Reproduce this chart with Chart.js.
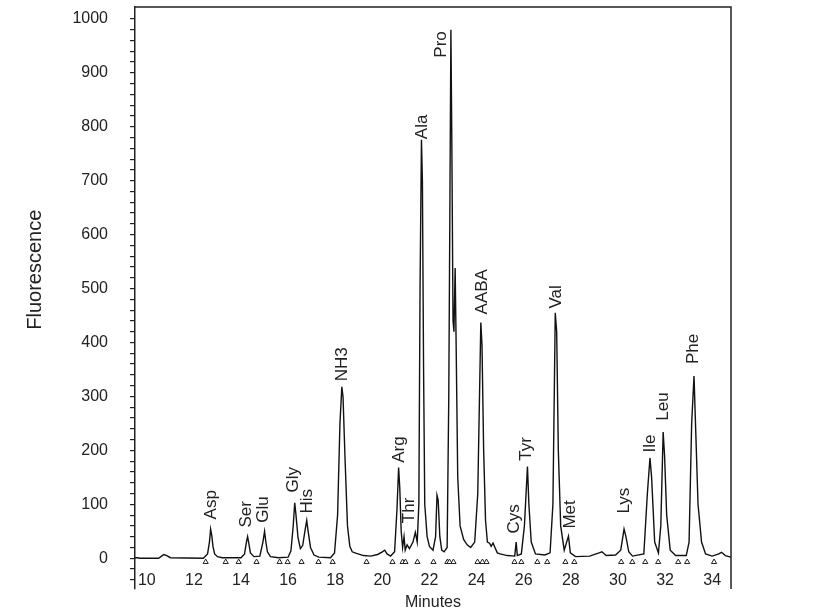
<!DOCTYPE html>
<html>
<head>
<meta charset="utf-8">
<script src="https://cdn.jsdelivr.net/npm/chart.js@4.4.1/dist/chart.umd.min.js"></script>
<style>
  body { margin: 0; background: #fff; }
</style>
</head>
<body>
<canvas id="chromChart" width="815" height="614"></canvas>
<script>
// retention time (minutes) and detector signal
const times = [
  9.5, 9.6, 9.7, 10.5, 10.6, 10.72, 10.85, 11.0, 12.4, 12.58,
  12.66, 12.71, 12.76, 12.81, 12.88, 13.0, 13.2, 14.0, 14.15, 14.23,
  14.28, 14.33, 14.4, 14.55, 14.8, 14.93, 15.0, 15.05, 15.12, 15.25,
  15.6, 16.0, 16.12, 16.22, 16.28, 16.33, 16.42, 16.52, 16.62, 16.73,
  16.79, 16.85, 16.95, 17.1, 17.3, 17.8, 17.97, 18.1, 18.2, 18.28,
  18.33, 18.42, 18.52, 18.62, 18.72, 18.9, 19.2, 19.5, 19.8, 20.0,
  20.1, 20.2, 20.35, 20.52, 20.62, 20.69, 20.74, 20.8, 20.86, 20.92,
  20.97, 21.05, 21.15, 21.3, 21.4, 21.48, 21.55, 21.6, 21.66, 21.7,
  21.75, 21.8, 21.9, 22.0, 22.15, 22.26, 22.32, 22.37, 22.44, 22.52,
  22.62, 22.75, 22.82, 22.87, 22.91, 22.95, 23.0, 23.04, 23.09, 23.13,
  23.2, 23.3, 23.45, 23.6, 23.75, 23.92, 24.05, 24.18, 24.23, 24.3,
  24.38, 24.46, 24.55, 24.62, 24.7, 24.78, 24.88, 25.0, 25.3, 25.62,
  25.68, 25.73, 25.9, 26.03, 26.16, 26.22, 26.32, 26.5, 26.9, 27.12,
  27.24, 27.34, 27.4, 27.47, 27.57, 27.72, 27.9, 27.98, 28.2, 28.8,
  29.2, 29.32, 29.5, 29.9, 30.12, 30.26, 30.34, 30.46, 30.62, 31.1,
  31.25, 31.36, 31.43, 31.56, 31.72, 31.82, 31.92, 31.98, 32.07, 32.22,
  32.45, 32.9, 33.02, 33.13, 33.23, 33.3, 33.4, 33.55, 33.72, 34.0,
  34.28, 34.4, 34.56, 34.8
];
const signal = [
  1, 1, 0, 0, 3, 7, 5, 1, 0, 8,
  30, 54, 42, 22, 8, 3, 1, 1, 8, 30,
  40, 28, 10, 3, 4, 30, 50, 32, 12, 3,
  1, 2, 14, 62, 103, 82, 38, 18, 24, 55,
  70, 50, 20, 6, 2, 1, 10, 80, 250, 318,
  300, 180, 60, 22, 12, 9, 5, 4, 7, 12,
  15, 8, 4, 12, 90, 168, 130, 50, 20, 40,
  15, 25, 18, 30, 48, 30, 100, 500, 776, 700,
  350, 100, 40, 22, 15, 40, 117, 108, 40, 15,
  12, 20, 300, 674, 980, 767, 440, 420, 538, 404,
  150, 60, 35, 25, 20, 30, 120, 437, 395, 200,
  70, 30, 28, 22, 28, 20, 10, 8, 5, 4,
  30, 5, 8, 60, 170, 100, 30, 8, 6, 10,
  100, 455, 420, 200, 60, 15, 41, 10, 3, 4,
  10, 12, 5, 6, 15, 54, 40, 12, 4, 8,
  120, 186, 150, 30, 10, 60, 234, 190, 80, 15,
  5, 5, 30, 250, 338, 240, 100, 30, 8, 4,
  8, 11, 5, 2
];

// peak names, where they sit (minutes) and the signal level where each label starts
const peakNames = ['Asp', 'Ser', 'Glu', 'Gly', 'His', 'NH3', 'Arg', 'Thr', 'Ala', 'Pro',
  'AABA', 'Cys', 'Tyr', 'Val', 'Met', 'Lys', 'Ile', 'Leu', 'Phe'];
const peakTimes = [12.76, 14.24, 14.96, 16.2, 16.83, 18.31, 20.73, 21.15, 21.7, 22.51,
  24.25, 25.61, 26.12, 27.39, 27.98, 30.27, 31.37, 31.93, 33.2];
const labelLevels = [72, 57, 66, 122, 83, 328, 177, 65, 777, 928,
  452, 46, 181, 463, 55, 83, 196, 255, 360];

// integration marks along the baseline
const markerTimes = [12.5, 13.35, 13.9, 14.66, 15.64, 15.98, 16.57, 17.29, 17.89, 19.33,
  20.43, 20.86, 20.98, 21.49, 22.17, 22.76, 22.85, 23.02, 24.04, 24.25,
  24.42, 25.61, 25.9, 26.58, 27.0, 27.77, 28.15, 30.14, 30.61, 31.16,
  31.71, 32.56, 32.94, 34.08];

const xTickLabels = [10, 12, 14, 16, 18, 20, 22, 24, 26, 28, 30, 32, 34];
const yTickLabels = [0, 100, 200, 300, 400, 500, 600, 700, 800, 900, 1000];
const yMinorTicks = [-40, -20, 0, 20, 40, 60, 80, 100, 120, 140, 160, 180, 200, 220, 240,
  260, 280, 300, 320, 340, 360, 380, 400, 420, 440, 460, 480, 500, 520, 540, 560,
  580, 600, 620, 640, 660, 680, 700, 720, 740, 760, 780, 800, 820, 840, 860, 880,
  900, 920, 940, 960, 980, 1000];

const ink = '#222';
Chart.defaults.font.family = '"Liberation Sans", Arial, Helvetica, sans-serif';
Chart.defaults.color = ink;

const framePlugin = {
  id: 'frame',
  afterDraw(chart) {
    const { ctx, chartArea: a, scales } = chart;
    ctx.save();
    ctx.strokeStyle = ink;
    ctx.lineWidth = 1.5;
    ctx.beginPath();
    ctx.moveTo(a.left, a.top);
    ctx.lineTo(a.right, a.top);
    ctx.lineTo(a.right, a.bottom);
    ctx.stroke();

    // peak names, rotated, above each peak
    ctx.fillStyle = ink;
    ctx.font = '17px "Liberation Sans", Arial, sans-serif';
    ctx.textAlign = 'left';
    ctx.textBaseline = 'middle';
    peakNames.forEach((name, i) => {
      const px = scales.x.getPixelForValue(peakTimes[i]);
      const py = scales.y.getPixelForValue(labelLevels[i]);
      ctx.save();
      ctx.translate(px, py);
      ctx.rotate(-Math.PI / 2);
      ctx.fillText(name, 0, 0);
      ctx.restore();
    });

    // y axis title
    ctx.font = '20px "Liberation Sans", Arial, sans-serif';
    ctx.textAlign = 'center';
    ctx.save();
    ctx.translate(35, scales.y.getPixelForValue(535));
    ctx.rotate(-Math.PI / 2);
    ctx.fillText('Fluorescence', 0, 0);
    ctx.restore();
    ctx.restore();
  }
};

const chromChart = new Chart(document.getElementById('chromChart'), {
  type: 'line',
  data: {
    datasets: [
      {
        label: 'signal',
        data: times.map((t, i) => ({ x: t, y: signal[i] })),
        borderColor: '#111',
        borderWidth: 1.4,
        pointRadius: 0,
        tension: 0,
        fill: false
      },
      {
        type: 'scatter',
        label: 'marks',
        data: markerTimes.map(t => ({ x: t, y: -7 })),
        pointStyle: 'triangle',
        pointRadius: 3,
        backgroundColor: '#fff',
        borderColor: ink,
        borderWidth: 1
      }
    ]
  },
  options: {
    responsive: false,
    animation: false,
    layout: { padding: { left: 24, top: 7, right: 84, bottom: 0 } },
    plugins: {
      legend: { display: false },
      tooltip: { enabled: false }
    },
    scales: {
      x: {
        type: 'linear',
        min: 9.5,
        max: 34.8,
        afterBuildTicks: s => { s.ticks = xTickLabels.map(v => ({ value: v })); },
        afterFit: s => { s.height = 25; s.paddingLeft = 0; s.paddingRight = 0; },
        ticks: { font: { size: 16 }, padding: -1, mirror: true, maxRotation: 0, autoSkip: false },
        grid: { display: false, drawTicks: false },
        border: { display: false },
        title: { display: true, text: 'Minutes', font: { size: 16 }, padding: { top: 0, bottom: 2 } }
      },
      y: {
        min: -57,
        max: 1022,
        afterBuildTicks: s => { s.ticks = yMinorTicks.map(v => ({ value: v })); },
        afterFit: s => { s.width = 111; s.paddingTop = 0; s.paddingBottom = 0; },
        ticks: {
          font: { size: 16 },
          padding: 22,
          autoSkip: false,
          callback: v => yTickLabels.includes(v) ? String(v) : ''
        },
        grid: { drawOnChartArea: false, drawTicks: true, tickLength: 5, color: ink, lineWidth: 1.2 },
        border: { color: ink, width: 1.5 }
      }
    }
  },
  plugins: [framePlugin]
});
</script>
</body>
</html>
